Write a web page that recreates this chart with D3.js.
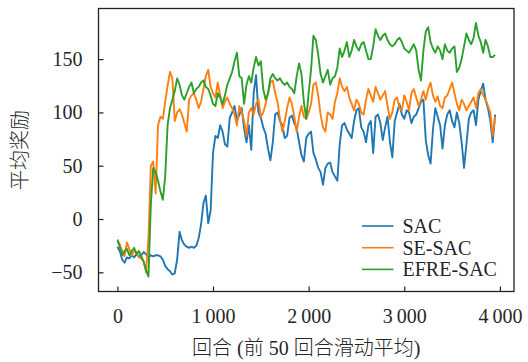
<!DOCTYPE html>
<html>
<head>
<meta charset="utf-8">
<script src="https://cdn.jsdelivr.net/npm/d3@7"></script>
<style>
  html, body { margin: 0; padding: 0; background: #fff; }
  svg { display: block; }
  text { font-family: "Liberation Serif", "Noto Sans CJK SC", serif; fill: #262626; }
</style>
</head>
<body>
<div id="chart"></div>
<script>
// episode step between samples (50-episode moving average, read every 25 episodes)
const episodeStep = 25;

const seriesNames = ["SAC", "SE-SAC", "EFRE-SAC"];
const seriesColors = ["#1f77b4", "#ff7f0e", "#2ca02c"];

const sacValues = [
  -26, -30, -38, -41, -36, -37, -34, -36, -33, -35, -34, -31, -33, -36, -34, -35,
  -34, -34, -35, -38, -44, -47, -49, -52, -51, -38, -12, -20, -24, -26, -27, -26,
  -27, -25, -18, -5, 15, 22, -4, 8, 62, 78, 76, 88, 82, 70, 68, 95,
  100, 106, 92, 98, 104, 85, 72, 88, 65, 118, 135, 100, 95, 86, 80, 66,
  55, 72, 98, 100, 92, 88, 76, 78, 95, 97, 90, 85, 72, 60, 54, 76,
  80, 82, 62, 56, 48, 44, 32, 48, 52, 53, 44, 40, 36, 70, 88, 90,
  84, 80, 76, 92, 102, 104, 86, 82, 72, 88, 92, 62, 96, 98, 90, 74,
  86, 96, 72, 58, 92, 100, 108, 98, 94, 102, 100, 90, 96, 98, 104, 110,
  112, 74, 60, 52, 84, 104, 96, 88, 66, 88, 98, 102, 92, 86, 100, 90,
  72, 48, 70, 94, 100, 102, 88, 112, 120, 127, 112, 104, 92, 72, 98
];

const seSacValues = [
  -19, -24, -30, -35, -22, -28, -34, -30, -31, -36, -37, -40, -50, -18, 50, 54,
  24, 88, 96, 94, 110, 125, 138, 132, 92, 100, 103, 98, 90, 82, 112, 116,
  118, 112, 104, 110, 122, 134, 140, 124, 118, 114, 128, 116, 104, 110, 114, 108,
  104, 98, 88, 106, 100, 92, 78, 100, 104, 98, 108, 112, 96, 100, 108, 118,
  128, 130, 118, 110, 94, 82, 92, 104, 114, 108, 96, 82, 96, 106, 96, 94,
  100, 108, 126, 128, 116, 98, 86, 82, 100, 98, 94, 110, 118, 132, 124, 120,
  124, 114, 108, 102, 112, 108, 100, 98, 112, 122, 116, 110, 124, 118, 112, 116,
  120, 106, 94, 100, 112, 114, 104, 102, 116, 110, 102, 118, 122, 114, 106, 112,
  120, 112, 122, 128, 116, 110, 115, 106, 104, 114, 116, 122, 128, 118, 108, 102,
  112, 108, 102, 106, 110, 114, 104, 118, 122, 116, 112, 106, 100, 78, 96
];

const efreSacValues = [
  -20, -26, -34, -30, -28, -34, -30, -27, -33, -30, -35, -40, -48, -54, 14, 48,
  44, 36, 26, 18, 40, 88, 104, 112, 120, 132, 126, 116, 112, 118, 124, 128,
  118, 122, 124, 128, 130, 124, 122, 116, 108, 106, 118, 114, 108, 116, 126, 132,
  138, 148, 156, 134, 132, 108, 126, 134, 128, 142, 152, 144, 148, 122, 112, 118,
  132, 136, 132, 130, 132, 128, 126, 128, 124, 122, 118, 134, 146, 136, 110, 94,
  118, 140, 172, 168, 154, 136, 128, 134, 140, 126, 132, 134, 142, 160, 152, 158,
  166, 152, 158, 168, 162, 158, 164, 166, 158, 150, 150, 162, 178, 172, 168, 172,
  174, 168, 164, 162, 164, 168, 170, 166, 160, 158, 156, 160, 164, 158, 140, 130,
  158, 176, 180, 166, 160, 156, 162, 158, 150, 164, 158, 156, 160, 162, 138, 142,
  150, 162, 174, 168, 164, 170, 184, 172, 166, 156, 168, 162, 152, 152, 154
];

const seriesValues = [sacValues, seSacValues, efreSacValues];

const xTicks = [0, 1000, 2000, 3000, 4000];
const yTicks = [-50, 0, 50, 100, 150];

const xLabel = "回合 (前 50 回合滑动平均)";
const yLabel = "平均奖励";

// layout
const width = 528, height = 362;
const plot = { left: 98.5, right: 514, top: 8.5, bottom: 291.5 };

const svg = d3.select("#chart").append("svg")
  .attr("width", width)
  .attr("height", height);

const x = d3.scaleLinear().domain([-197.5, 4147.5]).range([plot.left, plot.right]);
const y = d3.scaleLinear().domain([-68, 197.5]).range([plot.bottom, plot.top]);

const numFmt = d3.formatLocale({ decimal: ".", thousands: "\u2009", grouping: [3], currency: ["", ""], minus: "\u2212" });
const xFmt = numFmt.format(",d");
const yFmt = numFmt.format("d");

// lines
const line = d3.line()
  .x((d, i) => x(i * episodeStep))
  .y(d => y(d));

svg.append("g")
  .selectAll("path")
  .data(seriesValues)
  .join("path")
  .attr("d", d => line(d))
  .attr("fill", "none")
  .attr("stroke", (d, i) => seriesColors[i])
  .attr("stroke-width", 1.9)
  .attr("stroke-linejoin", "round");

// frame
svg.append("rect")
  .attr("x", plot.left)
  .attr("y", plot.top)
  .attr("width", plot.right - plot.left)
  .attr("height", plot.bottom - plot.top)
  .attr("fill", "none")
  .attr("stroke", "#222")
  .attr("stroke-width", 1.3);

// x axis, ticks inward
const xAxis = svg.append("g")
  .attr("transform", `translate(0,${plot.bottom})`)
  .call(d3.axisBottom(x).tickValues(xTicks).tickFormat(xFmt).tickSizeInner(-5).tickSizeOuter(0).tickPadding(17));
xAxis.select(".domain").remove();
xAxis.selectAll(".tick line").attr("stroke", "#222").attr("stroke-width", 1.2);
xAxis.selectAll(".tick text")
  .attr("font-size", "20px")
  .attr("font-family", "Liberation Serif, serif")
  .attr("fill", "#262626");

const yAxis = svg.append("g")
  .attr("transform", `translate(${plot.left},0)`)
  .call(d3.axisLeft(y).tickValues(yTicks).tickFormat(yFmt).tickSizeInner(-5).tickSizeOuter(0).tickPadding(16));
yAxis.select(".domain").remove();
yAxis.selectAll(".tick line").attr("stroke", "#222").attr("stroke-width", 1.2);
yAxis.selectAll(".tick text")
  .attr("font-size", "20px")
  .attr("font-family", "Liberation Serif, serif")
  .attr("fill", "#262626");

// axis titles
svg.append("text")
  .attr("x", (plot.left + plot.right) / 2)
  .attr("y", 355)
  .attr("text-anchor", "middle")
  .attr("font-size", "20px")
  .attr("font-weight", 300)
  .text(xLabel);

svg.append("text")
  .attr("transform", `translate(27,${(plot.top + plot.bottom) / 2}) rotate(-90)`)
  .attr("text-anchor", "middle")
  .attr("font-size", "20px")
  .attr("font-weight", 300)
  .text(yLabel);

// legend
const legend = svg.append("g").attr("transform", "translate(362,226)");
const items = legend.selectAll("g")
  .data(seriesNames)
  .join("g")
  .attr("transform", (d, i) => `translate(0,${i * 21.7})`);
items.append("line")
  .attr("x1", 0).attr("x2", 31.5)
  .attr("y1", 0).attr("y2", 0)
  .attr("stroke", (d, i) => seriesColors[i])
  .attr("stroke-width", 1.6);
items.append("text")
  .attr("x", 40.5)
  .attr("y", 7)
  .attr("font-size", "20px")
  .text(d => d);
</script>
</body>
</html>
